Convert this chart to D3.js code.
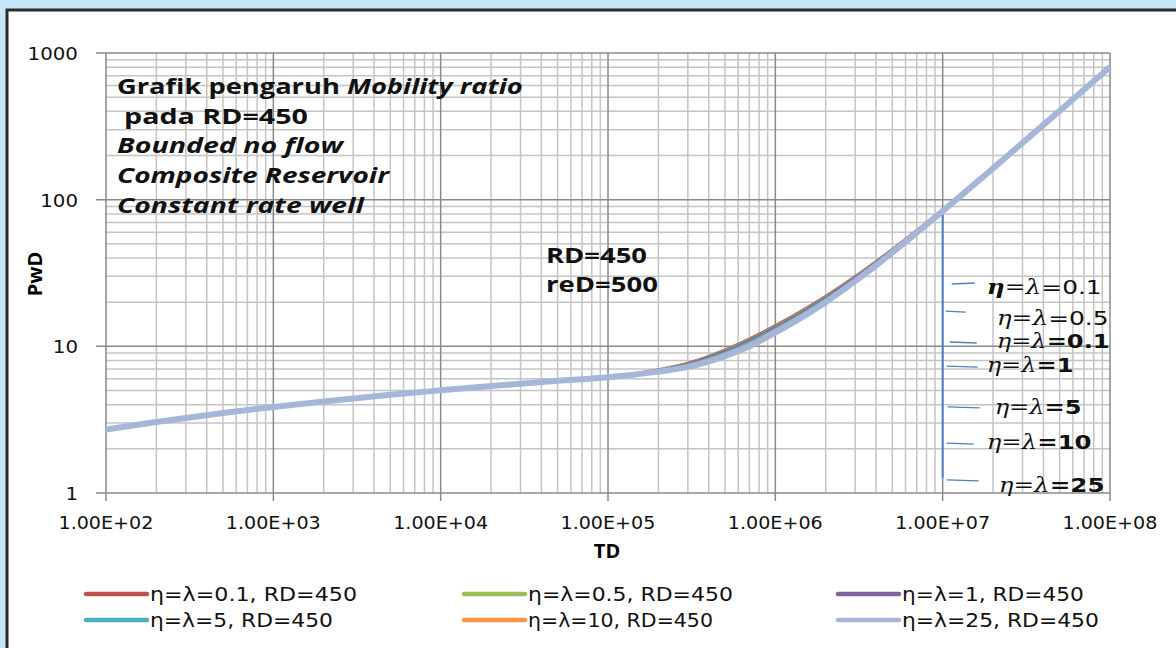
<!DOCTYPE html>
<html>
<head>
<meta charset="utf-8">
<script src="https://d3js.org/d3.v7.min.js"></script>
<style>
  body { margin: 0; background: #c6e6f7; }
  svg { display: block; }
</style>
</head>
<body>
<svg id="chart" width="1176" height="648"></svg>
<script>
// TD sample points and PwD values
const td = [100, 200, 500, 1e3, 2e3, 5e3, 1e4, 2e4, 5e4, 1e5, 2e5, 3e5, 5e5, 7e5, 1e6, 2e6, 3e6, 5e6, 7e6, 1e7, 2e7, 5e7, 1e8]
const early = [2.71, 3.05, 3.51, 3.86, 4.21, 4.67, 5.01, 5.36, 5.82, 6.16]
const pwd01 = early.concat([6.95, 7.70, 9.50, 11.3, 13.9, 22.0, 30.0, 46.0, 61.9, 86.0, 166.0, 406, 806])
const pwd05 = early.concat([6.92, 7.64, 9.38, 11.1, 13.7, 21.7, 29.7, 45.7, 61.6, 85.7, 165.7, 405, 805])
const pwd1  = early.concat([6.89, 7.58, 9.26, 11.0, 13.5, 21.4, 29.4, 45.4, 61.3, 85.4, 165.4, 405, 805])
const pwd5  = early.concat([6.84, 7.48, 9.05, 10.7, 13.2, 21.0, 28.9, 44.9, 60.8, 84.9, 164.9, 404, 804])
const pwd10 = early.concat([6.80, 7.40, 8.88, 10.4, 12.9, 20.6, 28.5, 44.4, 60.3, 84.4, 164.4, 404, 804])
const pwd25 = early.concat([6.72, 7.24, 8.58, 10.0, 12.4, 20.0, 27.8, 43.6, 59.6, 83.6, 163.5, 403, 803])

const seriesNames = ["η=λ=0.1, RD=450", "η=λ=0.5, RD=450", "η=λ=1, RD=450",
                     "η=λ=5, RD=450", "η=λ=10, RD=450", "η=λ=25, RD=450"]
const seriesValues = [pwd01, pwd05, pwd1, pwd5, pwd10, pwd25]
const colors = ["#c0504d", "#9bbb59", "#8064a2", "#4bacc6", "#f79646", "#a5b6d9"]
const legendWidths = [207, 205, 182, 183, 185, 197]

const xTickLabels = ["1.00E+02", "1.00E+03", "1.00E+04", "1.00E+05", "1.00E+06", "1.00E+07", "1.00E+08"]
const yTickLabels = ["1", "10", "100", "1000"]

// annotation labels next to the blue bracket
const noteLabels = [
  { t: "0.1", bold: false, etaBold: true },
  { t: "0.5", bold: false, etaBold: false },
  { t: "0.1", bold: true, etaBold: false },
  { t: "1", bold: true, etaBold: false },
  { t: "5", bold: true, etaBold: false },
  { t: "10", bold: true, etaBold: false },
  { t: "25", bold: true, etaBold: false }
]
const notePwd = [25.4, 15.6, 10.9, 7.46, 3.86, 2.23, 1.13]   // label centres (PwD units)
const noteOffset = [44, 54, 54, 44, 52, 44, 56]
const noteWidths = [115, 112, 113, 87, 87, 105, 106]
const tickPwd = [26.6, 17.4, 10.7, 7.34, 3.86, 2.19, 1.23]
const tickX0 = [9, 3, 7, 4, 5, 4, 4]
const tickLen = [23, 20, 27, 31, 32, 27, 32]

const svg = d3.select("#chart")

// stretch a text horizontally so it spans the given width
function stretch(sel, x0, y0, w, anchor) {
  const len = sel.node().getComputedTextLength()
  const k = w / len
  const left = anchor === "middle" ? x0 - w / 2 : anchor === "end" ? x0 - w : x0
  sel.attr("x", 0).attr("y", 0).attr("text-anchor", "start")
    .attr("transform", `translate(${left},${y0}) scale(${k},1)`)
  return sel
}

// chart sheet
svg.append("rect").attr("x", 7).attr("y", 10).attr("width", 1180).attr("height", 650)
  .attr("fill", "white").attr("stroke", "#2b2b2b").attr("stroke-width", 3)

const x = d3.scaleLog().domain([1e2, 1e8]).range([106, 1110])
const y = d3.scaleLog().domain([1, 1000]).range([493, 53])

const g = svg.append("g")

// minor grid
const minorX = [], minorY = []
for (let e = 2; e < 8; e++) for (let m = 2; m <= 9; m++) minorX.push(m * Math.pow(10, e))
for (let e = 0; e < 3; e++) for (let m = 2; m <= 9; m++) minorY.push(m * Math.pow(10, e))

g.selectAll(".mx").data(minorX).join("line")
  .attr("x1", d => x(d)).attr("x2", d => x(d)).attr("y1", y(1)).attr("y2", y(1000))
  .attr("stroke", "#c4c4c4").attr("stroke-width", 1.5)
g.selectAll(".my").data(minorY).join("line")
  .attr("x1", x(1e2)).attr("x2", x(1e8)).attr("y1", d => y(d)).attr("y2", d => y(d))
  .attr("stroke", "#c4c4c4").attr("stroke-width", 1.5)

// major grid
const majorX = d3.range(2, 9).map(e => Math.pow(10, e))
const majorY = d3.range(0, 4).map(e => Math.pow(10, e))
g.selectAll(".Mx").data(majorX).join("line")
  .attr("x1", d => x(d)).attr("x2", d => x(d)).attr("y1", y(1) + 8).attr("y2", y(1000))
  .attr("stroke", "#8a8a8a").attr("stroke-width", 1.5)
g.selectAll(".My").data(majorY).join("line")
  .attr("x1", x(1e2) - 10).attr("x2", x(1e8)).attr("y1", d => y(d)).attr("y2", d => y(d))
  .attr("stroke", "#8a8a8a").attr("stroke-width", 1.5)

// tick labels
majorX.forEach((d, i) => {
  const t = g.append("text").attr("font-family", "DejaVu Sans").attr("font-size", 18)
    .attr("fill", "#111").text(xTickLabels[i])
  stretch(t, x(d), 529, 95, "middle")
})
majorY.forEach((d, i) => {
  const t = g.append("text").attr("font-family", "DejaVu Sans").attr("font-size", 18)
    .attr("fill", "#111").text(yTickLabels[i])
  stretch(t, 78, y(d) + 7, t.node().getComputedTextLength() * 1.1, "end")
})

// axis titles
svg.append("text").attr("x", 607).attr("y", 558).attr("text-anchor", "middle")
  .attr("font-family", "Open Sans").attr("font-weight", "bold").attr("font-size", 20).text("TD")
svg.append("text").attr("transform", "translate(42,274) rotate(-90)").attr("text-anchor", "middle")
  .attr("font-family", "Open Sans").attr("font-weight", "bold").attr("font-size", 20).text("PwD")

// curves
const line = d3.line().x((d, i) => x(td[i])).y(d => y(d)).curve(d3.curveMonotoneX)
seriesValues.forEach((vals, i) => {
  g.append("path").datum(vals).attr("d", line).attr("fill", "none")
    .attr("stroke", colors[i]).attr("stroke-width", i === 5 ? 6 : 2.5)
})

// bracket with labels
const bx = x(1e7)
g.append("line").attr("x1", bx).attr("x2", bx).attr("y1", y(78.5)).attr("y2", y(1.27))
  .attr("stroke", "#4f81bd").attr("stroke-width", 2)
tickPwd.forEach((v, i) => {
  g.append("line").attr("x1", bx + tickX0[i]).attr("x2", bx + tickX0[i] + tickLen[i])
    .attr("y1", y(v)).attr("y2", y(v) + (i === 0 ? -1 : 1))
    .attr("stroke", "#4f81bd").attr("stroke-width", 1.3)
})
noteLabels.forEach((n, i) => {
  const t = g.append("text").attr("font-size", 20).attr("fill", "#111")
  t.append("tspan").attr("font-family", "DejaVu Serif").attr("font-style", "italic")
    .attr("font-weight", n.etaBold ? "bold" : "normal").text("η")
  t.append("tspan").attr("font-family", "DejaVu Serif").text("=")
  t.append("tspan").attr("font-family", "DejaVu Serif").attr("font-style", "italic").text("λ")
  t.append("tspan").attr("font-family", "DejaVu Sans").attr("font-weight", n.bold ? "bold" : "normal")
    .text("=" + n.t)
  stretch(t, bx + noteOffset[i], y(notePwd[i]) + 7, noteWidths[i], "start")
})

// text block
const tb = svg.append("g").attr("font-family", "Open Sans").attr("font-weight", "bold")
  .attr("font-size", 21).attr("fill", "#111")
const l1 = tb.append("text")
l1.append("tspan").text("Grafik pengaruh ")
l1.append("tspan").attr("font-style", "italic").text("Mobility ratio")
stretch(l1, 117, 94, 406, "start")
stretch(tb.append("text").text("pada RD=450"), 124, 124, 184, "start")
stretch(tb.append("text").attr("font-style", "italic").text("Bounded no flow"), 117, 153, 226, "start")
stretch(tb.append("text").attr("font-style", "italic").text("Composite Reservoir"), 117, 183, 272, "start")
stretch(tb.append("text").attr("font-style", "italic").text("Constant rate well"), 117, 213, 247, "start")
stretch(tb.append("text").text("RD=450"), 546, 263, 101, "start")
stretch(tb.append("text").text("reD=500"), 546, 292, 112, "start")

// legend
const legX = [86, 464, 838]
const legY = [594, 620]
seriesNames.forEach((name, i) => {
  const lx = legX[i % 3], ly = legY[Math.floor(i / 3)]
  svg.append("line").attr("x1", lx).attr("x2", lx + 61).attr("y1", ly).attr("y2", ly)
    .attr("stroke", colors[i]).attr("stroke-width", 4.5).attr("stroke-linecap", "round")
  const t = svg.append("text").attr("font-family", "DejaVu Sans").attr("font-size", 20)
    .attr("fill", "#111").text(name)
  stretch(t, lx + 64, ly + 7, legendWidths[i], "start")
})
</script>
</body>
</html>
